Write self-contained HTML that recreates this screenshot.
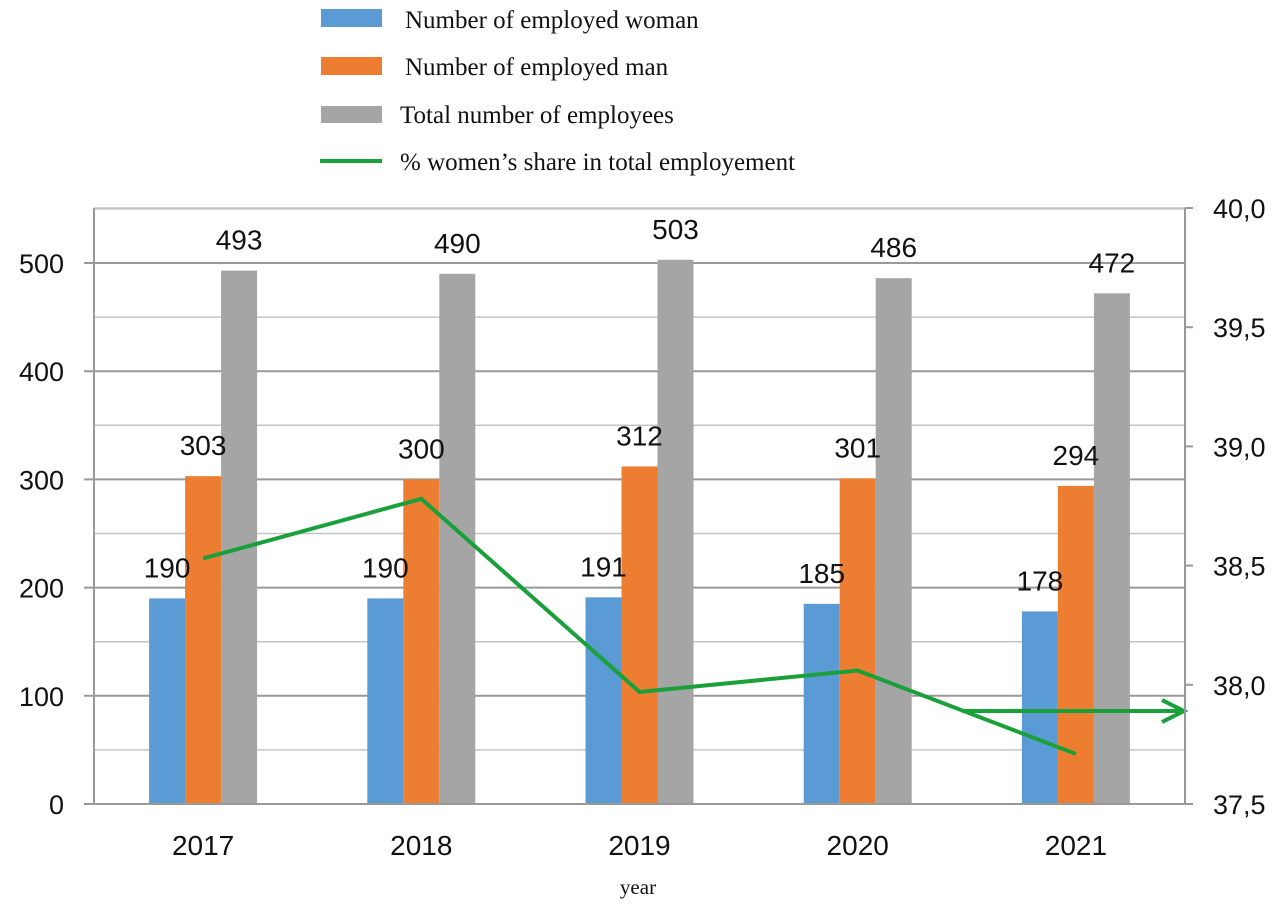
<!DOCTYPE html>
<html><head><meta charset="utf-8"><style>
body{margin:0;background:#fff;}
svg{display:block;}
</style></head><body>
<svg id="chart" width="1280" height="904" viewBox="0 0 1280 904" xmlns="http://www.w3.org/2000/svg">
<g font-family="Liberation Serif, serif" font-size="25" fill="#111">
 <rect x="321" y="9" width="61" height="18" fill="#5b9bd5"/>
 <text x="405" y="28">Number of employed woman</text>
 <rect x="321" y="57" width="61" height="18" fill="#ed7d31"/>
 <text x="405" y="75">Number of employed man</text>
 <rect x="321" y="106" width="61" height="17" fill="#a5a5a5"/>
 <text x="400" y="123">Total number of employees</text>
 <line x1="320" y1="161" x2="382" y2="161" stroke="#1aa03a" stroke-width="4"/>
 <text x="400" y="170">% women’s share in total employement</text>
</g>
<g id="grid"></g>
<g id="bars"></g>
<g id="labels"></g>
<g id="line"></g>
<g id="axes"></g>
<text x="638" y="894" text-anchor="middle" font-family="Liberation Serif, serif" font-size="21" fill="#111">year</text>
</svg>
<script>
const categories=["2017","2018","2019","2020","2021"];
const women=[190,190,191,185,178];
const men=[303,300,312,301,294];
const total=[493,490,503,486,472];
const share=[38.53,38.78,37.97,38.06,37.71];
const leftTicks=[0,100,200,300,400,500];
const rightTicks=["37,5","38,0","38,5","39,0","39,5","40,0"];
const rightTickVals=[37.5,38.0,38.5,39.0,39.5,40.0];
const arrowVal=37.89;

const NS="http://www.w3.org/2000/svg";
const X0=94,X1=1185,Y0=804,YT=208;
const yL=v=>Y0-v*1.082;
const yR=v=>Y0-(v-37.5)*238.4;
const band=(X1-X0)/categories.length;
const cx=i=>X0+band*(i+0.5);
function mk(tag,attrs,parent){const e=document.createElementNS(NS,tag);for(const k in attrs)e.setAttribute(k,attrs[k]);document.getElementById(parent).appendChild(e);return e;}

for(let v=50;v<=550;v+=50){const y=yL(v);if(y<YT-1)break;
 const major=v%100===0;
 const g=mk('line',{x1:major?X0-10:X0,x2:X1,y1:y,y2:y,stroke:major?'#999':'#c4c4c4','stroke-width':major?2:1.5},'grid');
 
 }
const tb=mk('line',{x1:X0,x2:X1,y1:YT,y2:YT,stroke:'#c4c4c4','stroke-width':1.5},'grid');



const series=[[women,'#5b9bd5','women'],[men,'#ed7d31','men'],[total,'#a5a5a5','total']];
const bw=36, offs=[-54,-18,18];
categories.forEach((c,i)=>{
 series.forEach((s,k)=>{
  const v=s[0][i],x=cx(i)+offs[k],y=yL(v);
  const r=mk('rect',{x:x,y:y,width:bw,height:Y0-y,fill:s[1]},'bars');
  
  
  const t=mk('text',{x:x+bw/2,y:y-21,'text-anchor':'middle','font-family':'Liberation Sans, sans-serif','font-size':28,fill:'#111'},'labels');
  t.textContent=v;
  
  
 });
 const xl=mk('text',{x:cx(i),y:855,'text-anchor':'middle','font-family':'Liberation Sans, sans-serif','font-size':28,fill:'#111'},'axes');
 xl.textContent=c;
 
 
});

const pts=share.map((v,i)=>cx(i)+','+yR(v)).join(' ');
const pl=mk('polyline',{points:pts,fill:'none',stroke:'#1aa03a','stroke-width':4,'stroke-linejoin':'miter'},'line');


const ay=yR(arrowVal);
const ar=mk('path',{d:'M962 '+ay+' L1184 '+ay+' M1162 '+(ay-11)+' L1184 '+ay+' L1162 '+(ay+11),fill:'none',stroke:'#1aa03a','stroke-width':4},'line');



const la=mk('line',{x1:X0,x2:X0,y1:YT,y2:Y0,stroke:'#999','stroke-width':2},'axes');


const ba=mk('line',{x1:X0-10,x2:X1+8,y1:Y0,y2:Y0,stroke:'#999','stroke-width':2},'axes');


const ra=mk('line',{x1:X1,x2:X1,y1:YT,y2:Y0,stroke:'#999','stroke-width':2},'axes');


leftTicks.forEach(v=>{
 const t=mk('text',{x:64,y:yL(v)+10,'text-anchor':'end','font-family':'Liberation Sans, sans-serif','font-size':27,fill:'#111'},'axes');
 t.textContent=v;
 
 
});
rightTickVals.forEach((v,i)=>{
 const y=yR(v);
 const tk=mk('line',{x1:X1,x2:X1+8,y1:y,y2:y,stroke:'#999','stroke-width':2},'axes');
 
 
 const t=mk('text',{x:1213,y:y+10,'font-family':'Liberation Sans, sans-serif','font-size':27,fill:'#111'},'axes');
 t.textContent=rightTicks[i];
 
 
});
</script>
</body></html>
